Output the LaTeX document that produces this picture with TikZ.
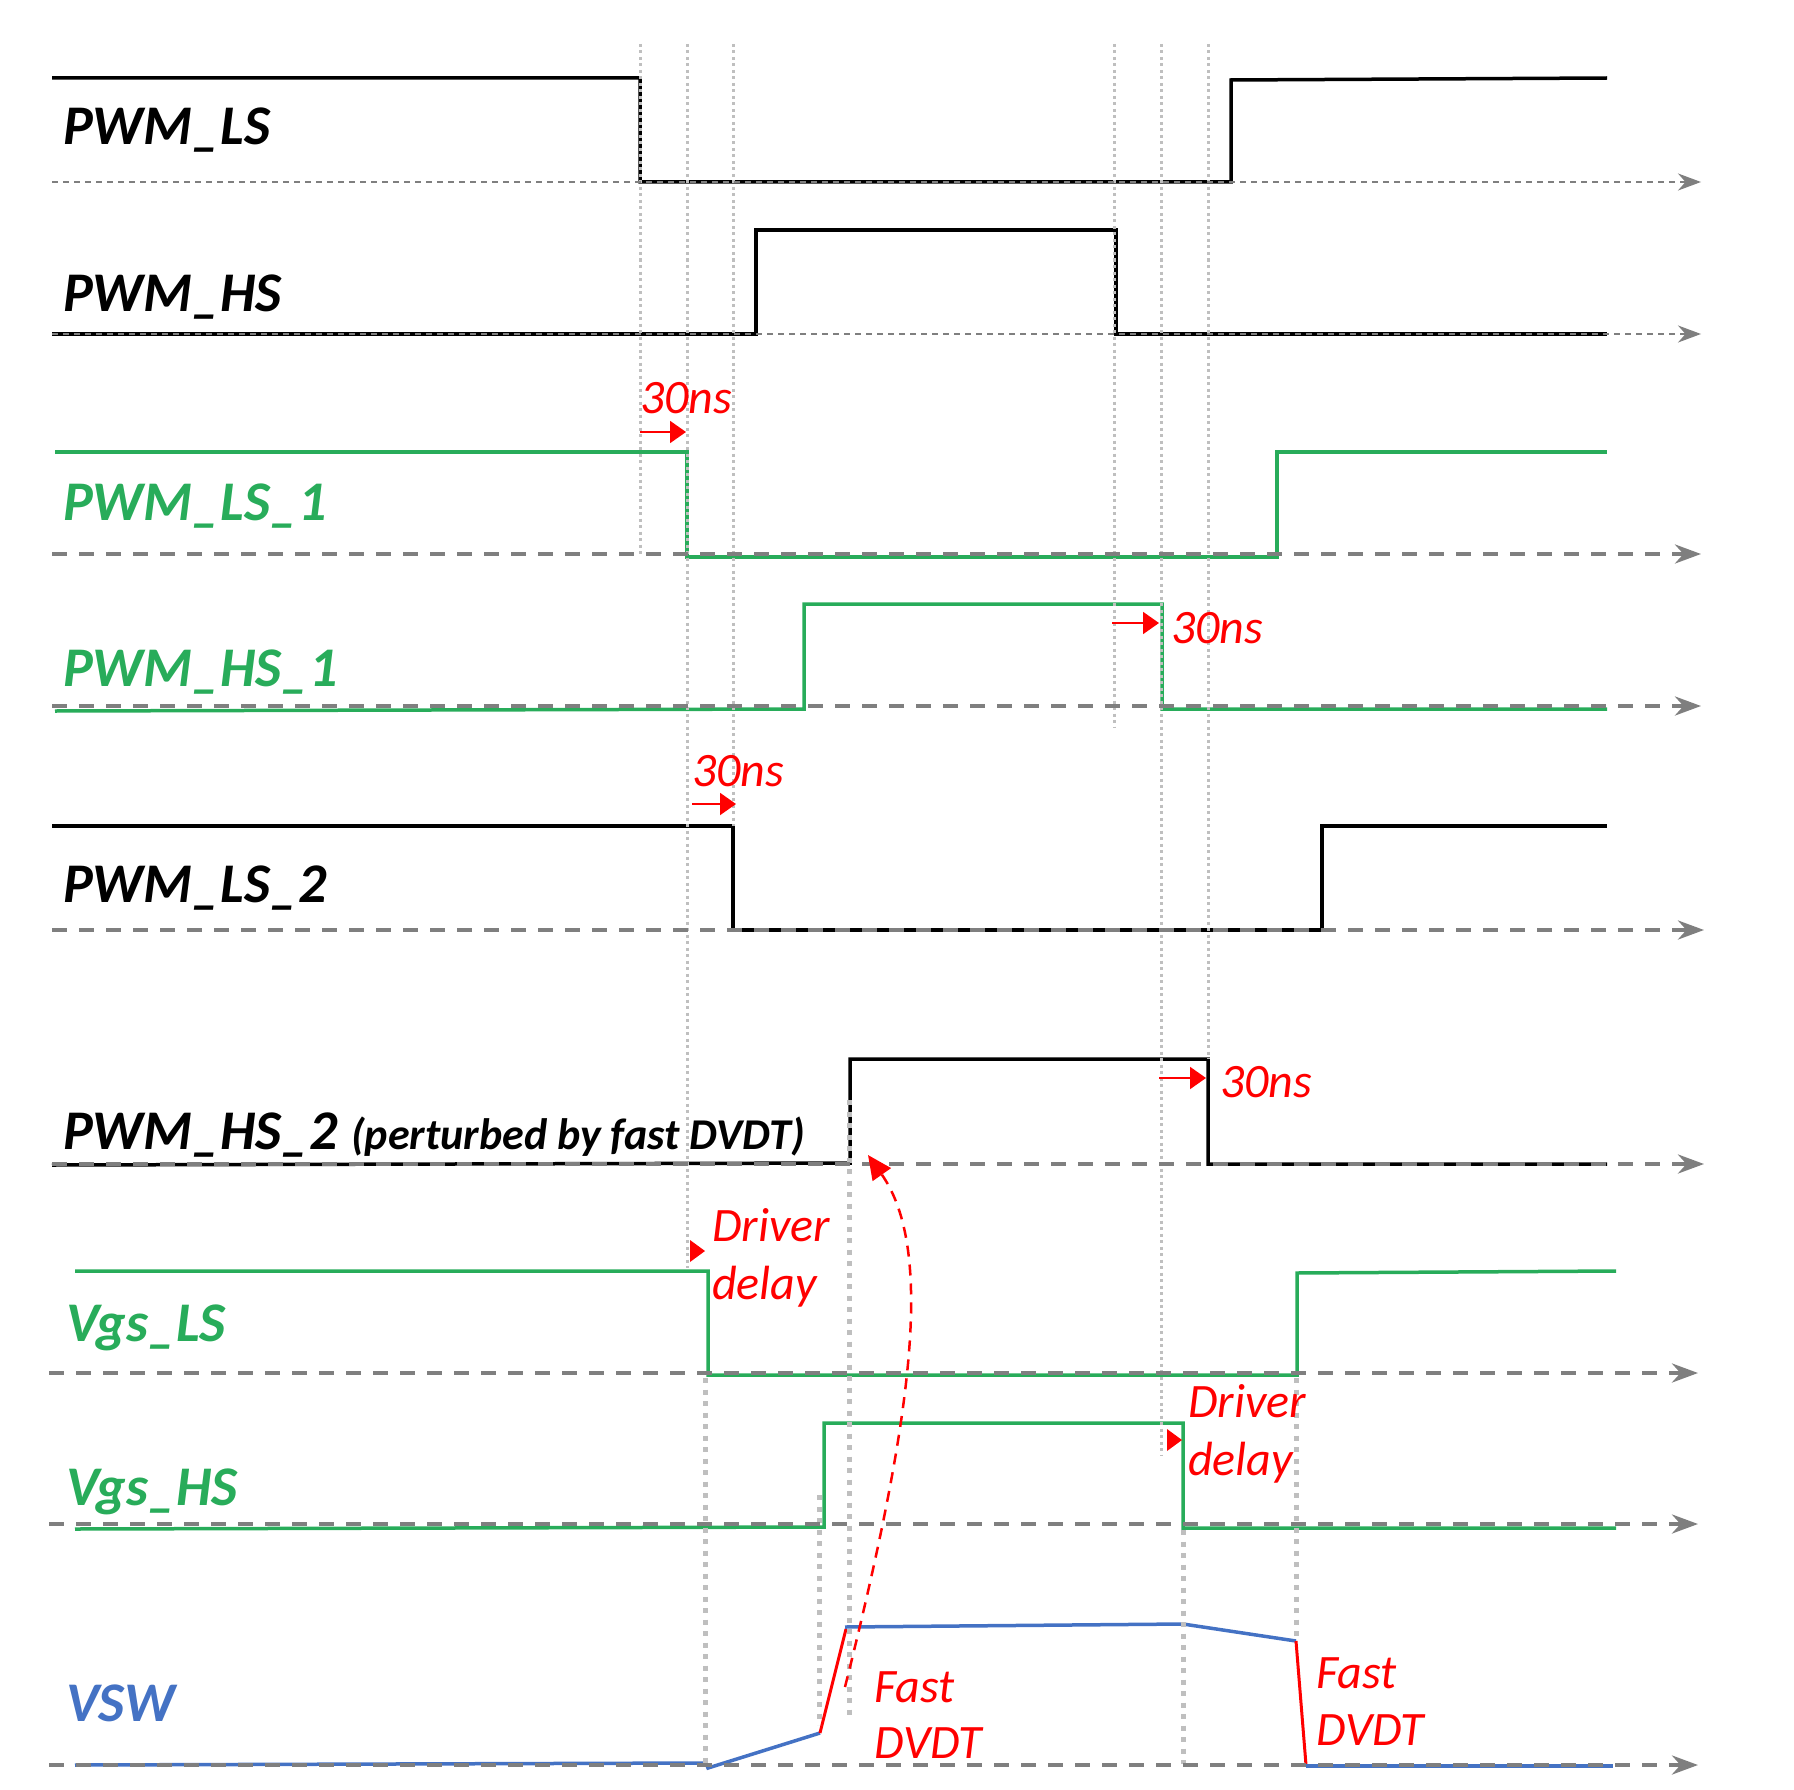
\documentclass[tikz,border=0pt]{standalone}
\usepackage{fontspec}
\setmainfont{Carlito}
\usetikzlibrary{arrows.meta}
\definecolor{sgreen}{RGB}{40,172,90}
\definecolor{sblue}{RGB}{68,114,196}
\definecolor{axgray}{RGB}{127,127,127}
\definecolor{dotgray}{RGB}{191,191,191}
\definecolor{ared}{RGB}{255,0,0}
\begin{document}
\begin{tikzpicture}[x=1pt,y=-1pt,
  sig/.style={line width=3.5pt, line join=miter},
  blk/.style={sig, black},
  grn/.style={sig, sgreen},
  blu/.style={sig, sblue},
  fastedge/.style={ared, line width=3pt},
  axthin/.style={axgray, line width=2pt, dash pattern=on 6pt off 5pt, -{Stealth[length=23pt,width=17pt]}},
  axthick/.style={axgray, line width=4pt, dash pattern=on 15pt off 12pt, -{Stealth[length=26pt,width=19pt]}},
  vthin/.style={dotgray, line width=3pt, dash pattern=on 3pt off 3.5pt},
  vthick/.style={dotgray, line width=5pt, dash pattern=on 5pt off 6.5pt},
  lbl/.style={font=\fontsize{56}{62}\selectfont\bfseries\itshape, inner sep=0pt, anchor=base west},
  sublbl/.style={font=\fontsize{44}{50}\selectfont\bfseries\itshape, inner sep=0pt, anchor=base west},
  ann/.style={text=ared, font=\fontsize{48}{54}\selectfont\itshape, inner sep=0pt, anchor=base west},
  delayarrow/.style={ared, line width=2pt, -{Triangle[length=16pt,width=22pt]}},
  headonly/.style={ared, fill=ared},
  curvearrow/.style={ared, line width=2.5pt, dash pattern=on 11pt off 8pt, -{Triangle[length=24pt,width=22pt]}}
]
\useasboundingbox (0,0) rectangle (1794,1790);

% ---------- signals ----------
% PWM_LS
\draw[blk] (52,78) -- (640,78) -- (640,182) -- (1231,182) -- (1231,80) -- (1607,78);
% PWM_HS
\draw[blk] (52,334) -- (756,334) -- (756,230) -- (1116,230) -- (1116,334) -- (1607,334);
% PWM_LS_1
\draw[grn] (55,452) -- (687,452) -- (687,557) -- (1277,557) -- (1277,452) -- (1607,452);
% PWM_HS_1
\draw[grn] (55,711) -- (804,709) -- (804,604) -- (1162,604) -- (1162,709) -- (1607,709);
% PWM_LS_2
\draw[blk] (52,826) -- (733,826) -- (733,930) -- (1322,930) -- (1322,826) -- (1607,826);
% PWM_HS_2
\draw[blk] (52,1165) -- (850,1163) -- (850,1059) -- (1208,1059) -- (1208,1164) -- (1607,1164);
% Vgs_LS
\draw[grn] (75,1271) -- (708,1271) -- (708,1375) -- (1297,1375) -- (1297,1273) -- (1616,1271);
% Vgs_HS
\draw[grn] (75,1529) -- (824,1527) -- (824,1423) -- (1183,1423) -- (1183,1528) -- (1616,1528);
% VSW
\draw[blu] (75,1765) -- (706,1763) -- (708,1768) -- (820,1733);
\draw[fastedge] (820,1733) -- (846,1629);
\draw[blu] (845,1627) -- (1183,1624) -- (1296,1641);
\draw[fastedge] (1296,1641) -- (1306,1765);
\draw[blu] (1306,1766) -- (1613,1766);

% ---------- vertical guide lines ----------
\draw[vthin] (640,44) -- (640,554);
\draw[vthin] (687,44) -- (687,1268);
\draw[vthin] (733,44) -- (733,826);
\draw[vthin] (1114,44) -- (1114,728);
\draw[vthin] (1161,44) -- (1161,1456);
\draw[vthin] (1208,44) -- (1208,1059);

\draw[vthick] (705,1378) -- (705,1767);
\draw[vthick] (819,1495) -- (819,1725);
\draw[vthick] (849,1100) -- (849,1715);
\draw[vthick] (1183,1530) -- (1183,1764);
\draw[vthick] (1296,1378) -- (1296,1640);

% ---------- time axes ----------
\coordinate (a1s) at (52,182);   \coordinate (a1e) at (1701,182);
\coordinate (a2s) at (52,334);   \coordinate (a2e) at (1701,334);
\coordinate (a3s) at (52,554);   \coordinate (a3e) at (1701,554);
\coordinate (a4s) at (52,706);   \coordinate (a4e) at (1701,706);
\coordinate (a5s) at (52,930);   \coordinate (a5e) at (1704,930);
\coordinate (a6s) at (52,1164);  \coordinate (a6e) at (1704,1164);
\coordinate (a7s) at (49,1373);  \coordinate (a7e) at (1698,1373);
\coordinate (a8s) at (49,1524);  \coordinate (a8e) at (1698,1524);
\coordinate (a9s) at (49,1765);  \coordinate (a9e) at (1698,1765);
\draw[axthin] (a1s) -- (a1e);
\draw[axthin] (a2s) -- (a2e);
\draw[axthick] (a3s) -- (a3e);
\draw[axthick] (a4s) -- (a4e);
\draw[axthick] (a5s) -- (a5e);
\draw[axthick] (a6s) -- (a6e);
\draw[axthick] (a7s) -- (a7e);
\draw[axthick] (a8s) -- (a8e);
\draw[axthick] (a9s) -- (a9e);

% ---------- signal labels ----------
\node[lbl] (lpwmls) at (63,145) {PWM\_LS};
\node[lbl] (lpwmhs) at (63,311) {PWM\_HS};
\node[lbl, text=sgreen] (lpwmls1) at (63,520) {PWM\_LS\_1};
\node[lbl, text=sgreen] (lpwmhs1) at (63,686) {PWM\_HS\_1};
\node[lbl] (lpwmls2) at (63,902) {PWM\_LS\_2};
\node[lbl] (lpwmhs2) at (63,1149) {PWM\_HS\_2};
\node[sublbl] (lpert) at (351,1149) {(perturbed by fast DVDT)};
\node[lbl, text=sgreen] (lvgsls) at (66,1341) {Vgs\_LS};
\node[lbl, text=sgreen] (lvgshs) at (66,1505) {Vgs\_HS};
\node[lbl, text=sblue] (lvsw) at (66,1721) {VSW};

% ---------- 30ns annotations ----------
\node[ann] (t1) at (640,413) {30ns};
\coordinate (t1a) at (640,432); \coordinate (t1b) at (686,432);
\draw[delayarrow] (t1a) -- (t1b);

\node[ann] (t2) at (1171,643) {30ns};
\coordinate (t2a) at (1112,623); \coordinate (t2b) at (1159,623);
\draw[delayarrow] (t2a) -- (t2b);

\node[ann] (t3) at (692,786) {30ns};
\coordinate (t3a) at (692,804); \coordinate (t3b) at (736,804);
\draw[delayarrow] (t3a) -- (t3b);

\node[ann] (t4) at (1220,1097) {30ns};
\coordinate (t4a) at (1159,1078); \coordinate (t4b) at (1206,1078);
\draw[delayarrow] (t4a) -- (t4b);

% ---------- driver delay ----------
\node[ann] (d1a) at (712,1241) {Driver};
\node[ann] (d1b) at (712,1299) {delay};
\fill[headonly] (690,1240) -- (705,1251) -- (690,1262) -- cycle;

\node[ann] (d2a) at (1188,1417) {Driver};
\node[ann] (d2b) at (1188,1475) {delay};
\fill[headonly] (1167,1429) -- (1182,1440) -- (1167,1451) -- cycle;

% ---------- fast DVDT ----------
\node[ann] (f1a) at (874,1702) {Fast};
\node[ann] (f1b) at (874,1758) {DVDT};
\node[ann] (f2a) at (1316,1688) {Fast};
\node[ann] (f2b) at (1316,1745) {DVDT};

\coordinate (cstart) at (845,1687);
\coordinate (cend) at (868,1155);
\draw[curvearrow] (cstart) .. controls (912,1420) and (935,1250) .. (cend);
\end{tikzpicture}
\end{document}
